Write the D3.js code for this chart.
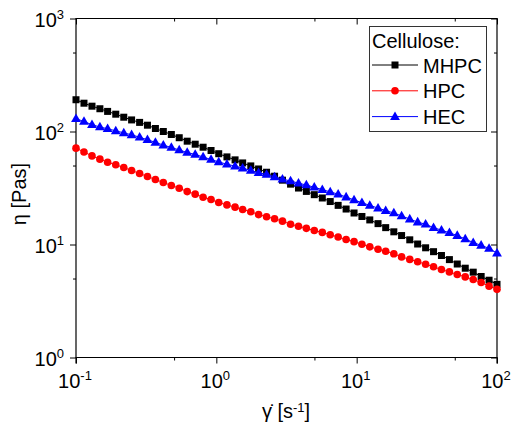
<!DOCTYPE html>
<html>
<head>
<meta charset="utf-8">
<script src="https://cdn.jsdelivr.net/npm/d3@7"></script>
<style>
  html, body { margin: 0; padding: 0; background: #fff; }
  svg { display: block; font-family: "Liberation Sans", Arial, sans-serif; }
</style>
</head>
<body>
<svg id="chart" width="515" height="439"></svg>
<script>
// ---------------- data ----------------
const shearRate = [0.1, 0.114, 0.130, 0.148, 0.168, 0.192, 0.219, 0.249, 0.284, 0.323,
  0.368, 0.419, 0.478, 0.544, 0.620, 0.707, 0.805, 0.917, 1.04, 1.19,
  1.36, 1.54, 1.76, 2.00, 2.28, 2.60, 2.96, 3.38, 3.85, 4.38,
  4.99, 5.69, 6.48, 7.38, 8.41, 9.58, 10.9, 12.4, 14.2, 16.1,
  18.4, 20.9, 23.9, 27.2, 31.0, 35.3, 40.2, 45.8, 52.1, 59.4,
  67.7, 77.1, 87.8, 100];

const mhpc = [191, 178, 167.5, 159, 150.6, 142.3, 133.8, 126.6, 120.4, 113.7,
  106.3, 100, 94.1, 88.1, 82.1, 77.2, 72.6, 67.9, 63.6, 59.6,
  56.1, 52.7, 49.6, 46.6, 43.6, 40.2, 37.1, 34.2, 31.6, 29.5,
  27.6, 25.8, 24.0, 22.2, 20.6, 19.0, 17.7, 16.5, 15.3, 14.1,
  12.95, 12.0, 11.0, 10.1, 9.35, 8.64, 7.99, 7.35, 6.72, 6.17,
  5.69, 5.21, 4.83, 4.44];

const hpc = [71.2, 65.9, 60.8, 56.9, 53.5, 50.8, 48.0, 45.2, 42.5, 40.0,
  37.6, 35.4, 33.3, 31.5, 29.4, 27.9, 26.2, 25.0, 23.5, 22.4,
  21.4, 20.4, 19.5, 18.4, 17.6, 16.9, 16.1, 15.1, 14.5, 13.9,
  13.3, 12.8, 12.2, 11.65, 11.07, 10.6, 10.06, 9.53, 9.09, 8.72,
  8.27, 7.77, 7.38, 7.04, 6.69, 6.35, 6.00, 5.72, 5.43, 5.17,
  4.90, 4.61, 4.28, 4.01];

const hec = [129.8, 122.6, 114.9, 109.6, 105.7, 101.4, 97.2, 93.5, 89.0, 84.6,
  80.1, 75.8, 72.2, 68.6, 65.2, 62.6, 59.5, 56.5, 53.8, 51.3,
  49.4, 47.4, 45.2, 43.2, 41.7, 39.7, 37.9, 36.5, 34.9, 33.6,
  32.1, 30.6, 29.2, 27.9, 26.3, 24.8, 23.4, 22.2, 21.0, 19.95,
  19.0, 17.9, 16.8, 15.8, 15.1, 14.1, 13.4, 12.7, 12.0, 11.2,
  10.4, 9.84, 9.24, 8.38];

const seriesNames = ["MHPC", "HPC", "HEC"];
const seriesColors = ["#000000", "#ff0000", "#0000ff"];
const seriesShapes = ["square", "circle", "triangle"];
const legendTitle = "Cellulose:";

const xMajorTicks = [0.1, 1, 10, 100];
const xMajorExp = ["-1", "0", "1", "2"];
const xMinorTicks = [0.5, 5, 50];
const yMajorTicks = [1, 10, 100, 1000];
const yMajorExp = ["0", "1", "2", "3"];
const yMinorTicks = [5, 50, 500];

// ---------------- layout ----------------
const L = 76, R = 497, T = 18.5, B = 357.5;
const svg = d3.select("#chart");
const x = d3.scaleLog().domain([0.1, 100]).range([L, R]);
const y = d3.scaleLog().domain([1, 1000]).range([B, T]);

const seriesData = [mhpc, hpc, hec].map((vals, k) => ({
  name: seriesNames[k], color: seriesColors[k], shape: seriesShapes[k],
  points: vals.map((v, i) => ({ x: shearRate[i], y: v }))
}));

// ---------------- axes ----------------
function styleAxis(g) {
  g.selectAll("path.domain").remove();
  g.selectAll(".tick line").attr("stroke", "#000").attr("stroke-width", 1);
  g.selectAll(".tick text").remove();
}
// bottom (outward)
svg.append("g").attr("transform", `translate(0,${B})`)
  .call(d3.axisBottom(x).tickValues(xMajorTicks).tickSize(6).tickSizeOuter(0)).call(styleAxis);
svg.append("g").attr("transform", `translate(0,${B})`)
  .call(d3.axisBottom(x).tickValues(xMinorTicks).tickSize(3).tickSizeOuter(0)).call(styleAxis);
// top (inward)
svg.append("g").attr("transform", `translate(0,${T})`)
  .call(d3.axisBottom(x).tickValues(xMajorTicks).tickSize(6).tickSizeOuter(0)).call(styleAxis);
svg.append("g").attr("transform", `translate(0,${T})`)
  .call(d3.axisBottom(x).tickValues(xMinorTicks).tickSize(3).tickSizeOuter(0)).call(styleAxis);
// left (outward)
svg.append("g").attr("transform", `translate(${L},0)`)
  .call(d3.axisLeft(y).tickValues(yMajorTicks).tickSize(6).tickSizeOuter(0)).call(styleAxis);
svg.append("g").attr("transform", `translate(${L},0)`)
  .call(d3.axisLeft(y).tickValues(yMinorTicks).tickSize(3).tickSizeOuter(0)).call(styleAxis);
// right (inward)
svg.append("g").attr("transform", `translate(${R},0)`)
  .call(d3.axisLeft(y).tickValues(yMajorTicks).tickSize(6).tickSizeOuter(0)).call(styleAxis);
svg.append("g").attr("transform", `translate(${R},0)`)
  .call(d3.axisLeft(y).tickValues(yMinorTicks).tickSize(3).tickSizeOuter(0)).call(styleAxis);

// frame lines
svg.append("line").attr("x1", L - 0.5).attr("x2", R + 0.5).attr("y1", T).attr("y2", T)
  .attr("stroke", "#000").attr("stroke-width", 1);
svg.append("line").attr("x1", L - 0.5).attr("x2", R + 0.5).attr("y1", B).attr("y2", B)
  .attr("stroke", "#000").attr("stroke-width", 1);
svg.append("line").attr("x1", L).attr("x2", L).attr("y1", T).attr("y2", B + 6)
  .attr("stroke", "#000").attr("stroke-width", 1.2);
svg.append("line").attr("x1", R).attr("x2", R).attr("y1", T).attr("y2", B + 6)
  .attr("stroke", "#000").attr("stroke-width", 1.2);

// tick labels
const xl = svg.append("g").selectAll("text").data(xMajorTicks).join("text")
  .attr("x", d => x(d) - 1).attr("y", 388).attr("text-anchor", "middle")
  .attr("font-size", 20).attr("fill", "#000");
xl.append("tspan").text("10");
xl.append("tspan").attr("dy", -8).attr("font-size", 13).text((d, i) => xMajorExp[i]);

const yl = svg.append("g").selectAll("text").data(yMajorTicks).join("text")
  .attr("x", 64).attr("y", d => y(d) + 8.5).attr("text-anchor", "end")
  .attr("font-size", 20).attr("fill", "#000");
yl.append("tspan").text("10");
yl.append("tspan").attr("dy", -8).attr("font-size", 13).text((d, i) => yMajorExp[i]);

// axis titles
svg.append("text").attr("transform", "translate(25.5,194) rotate(-90)")
  .attr("text-anchor", "middle").attr("font-size", 20).text("η [Pas]");
const xt = svg.append("text").attr("x", 286).attr("y", 418)
  .attr("text-anchor", "middle").attr("font-size", 20);
xt.append("tspan").text("γ\u0307 [s");
xt.append("tspan").attr("dy", -6).attr("font-size", 13).text("-1");
xt.append("tspan").attr("dy", 6).text("]");

// ---------------- series ----------------
const triangle = d3.symbol().type(d3.symbolTriangle).size(42);
function drawMarker(g, shape, color, cx, cy) {
  if (shape === "square") {
    g.append("rect").attr("x", cx - 3.5).attr("y", cy - 3.5).attr("width", 7).attr("height", 7)
      .attr("fill", color);
  } else if (shape === "circle") {
    g.append("circle").attr("cx", cx).attr("cy", cy).attr("r", 3.8).attr("fill", color);
  } else {
    g.append("path").attr("d", triangle()).attr("transform", `translate(${cx},${cy + 0.5})`)
      .attr("fill", color);
  }
}

const line = d3.line().x(d => x(d.x)).y(d => y(d.y));
seriesData.forEach(s => {
  const g = svg.append("g");
  g.append("path").datum(s.points).attr("d", line)
    .attr("fill", "none").attr("stroke", s.color).attr("stroke-width", 1);
  s.points.forEach(p => drawMarker(g, s.shape, s.color, x(p.x), y(p.y)));
});

// ---------------- legend ----------------
const lg = svg.append("g");
lg.append("rect").attr("x", 369.5).attr("y", 26.5).attr("width", 117).attr("height", 105)
  .attr("fill", "#fff").attr("stroke", "#333").attr("stroke-width", 1);
lg.append("text").attr("x", 372).attr("y", 48).attr("font-size", 20).text(legendTitle);
seriesData.forEach((s, k) => {
  const ly = 65 + k * 25.8;
  lg.append("line").attr("x1", 372).attr("x2", 418).attr("y1", ly).attr("y2", ly)
    .attr("stroke", s.color).attr("stroke-width", 1);
  drawMarker(lg, s.shape, s.color, 395, ly);
  lg.append("text").attr("x", 423).attr("y", ly + 7.5).attr("font-size", 20).text(s.name);
});
</script>
</body>
</html>
